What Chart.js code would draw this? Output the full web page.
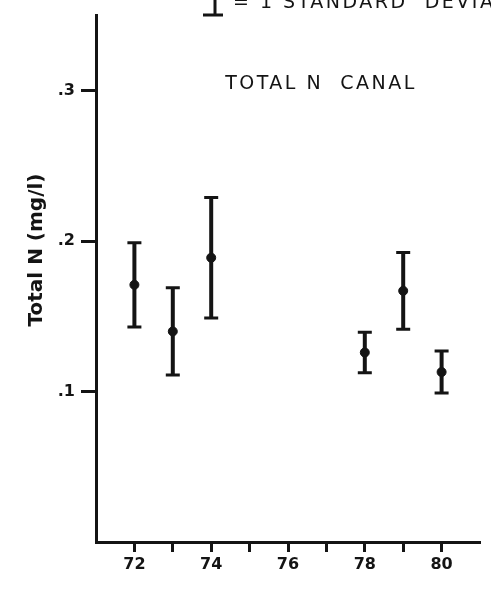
<!DOCTYPE html>
<html>
<head>
<meta charset="utf-8">
<script src="https://cdn.jsdelivr.net/npm/chart.js@4.4.1/dist/chart.umd.min.js"></script>
<style>
  html, body { margin: 0; padding: 0; background: #fff; }
  #wrap { width: 491px; height: 592px; }
</style>
</head>
<body>
<div id="wrap"><canvas id="grafikN"></canvas></div>
<script>
// yearly total N in the canal, mean and one standard deviation
const years = [72, 73, 74, 78, 79, 80];
const means = [0.171, 0.140, 0.189, 0.126, 0.167, 0.113];
const stdDev = [0.028, 0.029, 0.040, 0.0135, 0.0255, 0.014];
const yTicks = [0.1, 0.2, 0.3];
const xTicks = [72, 73, 74, 75, 76, 77, 78, 79, 80];

const ink = "#141414";
const textFont = "'DejaVu Sans', sans-serif";

// vertical bars with caps, from the scales
const errorBars = {
    id: "errorBars",
    beforeDatasetsDraw(chart) {
        const ctx = chart.ctx;
        const x = chart.scales.x;
        const y = chart.scales.y;
        ctx.save();
        ctx.strokeStyle = ink;
        years.forEach((yr, i) => {
            const px = x.getPixelForValue(yr);
            const top = y.getPixelForValue(means[i] + stdDev[i]);
            const bot = y.getPixelForValue(means[i] - stdDev[i]);
            ctx.lineWidth = 4;
            ctx.beginPath();
            ctx.moveTo(px, top);
            ctx.lineTo(px, bot);
            ctx.stroke();
            ctx.lineWidth = 3;
            ctx.beginPath();
            ctx.moveTo(px - 7, top);
            ctx.lineTo(px + 7, top);
            ctx.moveTo(px - 7, bot);
            ctx.lineTo(px + 7, bot);
            ctx.stroke();
        });
        ctx.restore();
    },
};

// caption, key for the bars and the axis name
const labels = {
    id: "labels",
    afterDraw(chart) {
        const ctx = chart.ctx;
        ctx.save();
        ctx.fillStyle = ink;
        ctx.strokeStyle = ink;
        ctx.font = "19px " + textFont;
        ctx.letterSpacing = "2.5px";
        ctx.textAlign = "center";
        ctx.textBaseline = "alphabetic";
        ctx.fillText("TOTAL N  CANAL", 321, 89);

        ctx.textAlign = "left";
        ctx.fillText("= 1 STANDARD  DEVIATION", 233, 8);

        ctx.lineWidth = 3;
        ctx.beginPath();
        ctx.moveTo(215, 0);
        ctx.lineTo(215, 15);
        ctx.moveTo(203, 15);
        ctx.lineTo(223, 15);
        ctx.stroke();

        ctx.letterSpacing = "0px";
        ctx.font = "bold 20px " + textFont;
        ctx.textAlign = "center";
        ctx.textBaseline = "middle";
        ctx.translate(37, 250);
        ctx.rotate(-Math.PI / 2);
        ctx.fillText("Total N (mg/l)", 0, 0);
        ctx.restore();
    },
};

new Chart(document.getElementById("grafikN"), {
    type: "scatter",
    data: {
        datasets: [
            {
                label: "Total N",
                data: years.map((yr, i) => ({ x: yr, y: means[i] })),
                backgroundColor: ink,
                borderColor: ink,
                pointRadius: 4.5,
                pointHoverRadius: 4.5,
            },
        ],
    },
    options: {
        responsive: true,
        maintainAspectRatio: false,
        animation: false,
        layout: { padding: { top: 12, right: 11, left: 0, bottom: 0 } },
        plugins: { legend: { display: false }, tooltip: { enabled: false } },
        scales: {
            x: {
                type: "linear",
                min: 71,
                max: 81,
                afterBuildTicks: (scale) => {
                    scale.ticks = xTicks.map((v) => ({ value: v }));
                },
                afterFit: (scale) => {
                    scale.height = 50;
                },
                border: { display: true, width: 3, color: ink },
                grid: {
                    drawOnChartArea: false,
                    drawTicks: true,
                    tickLength: 10,
                    tickWidth: 3,
                    tickColor: ink,
                },
                ticks: {
                    color: ink,
                    padding: 3,
                    maxRotation: 0,
                    autoSkip: false,
                    font: { family: textFont, size: 16, weight: "bold" },
                    callback: (v) => (v % 2 === 0 ? String(v) : ""),
                },
            },
            y: {
                min: 0,
                max: 0.35,
                afterBuildTicks: (scale) => {
                    scale.ticks = yTicks.map((v) => ({ value: v }));
                },
                afterFit: (scale) => {
                    scale.width = 96;
                },
                border: { display: true, width: 3, color: ink },
                grid: {
                    drawOnChartArea: false,
                    drawTicks: true,
                    tickLength: 15,
                    tickWidth: 3,
                    tickColor: ink,
                },
                ticks: {
                    color: ink,
                    padding: 6,
                    font: { family: textFont, size: 16, weight: "bold" },
                    callback: (v) => v.toFixed(1).replace(/^0/, ""),
                },
            },
        },
    },
    plugins: [errorBars, labels],
});
</script>
</body>
</html>
